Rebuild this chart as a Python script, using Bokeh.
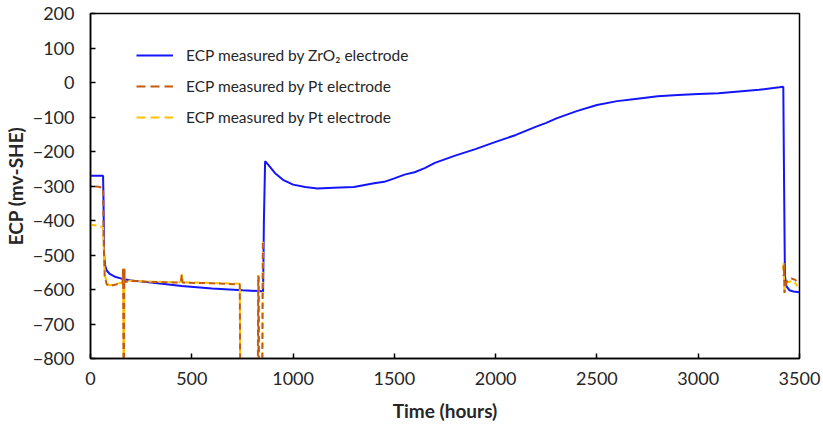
import math
from bokeh.plotting import figure
from bokeh.models import ColumnDataSource, Legend, LegendItem, Range1d, FixedTicker
from bokeh.embed import file_html
from bokeh.resources import INLINE

NaN = float("nan")

# ECP measured by ZrO2 electrode
t_zr = [0, 62, 64, 67, 72, 80, 95, 120, 163, 220, 300, 450, 600, 750, 845, 852,
        856, 862, 880, 910, 950, 1000, 1060, 1120, 1200, 1300, 1400, 1450, 1500,
        1550, 1600, 1650, 1700, 1800, 1900, 2000, 2100, 2200, 2250, 2300, 2400,
        2500, 2600, 2700, 2800, 2900, 3000, 3100, 3200, 3300, 3400, 3420, 3424,
        3428, 3435, 3450, 3470, 3500]
ecp_zr = [-270, -270, -330, -500, -530, -545, -555, -563, -570, -575, -580, -590,
          -597, -602, -605, -606, -400, -228, -240, -262, -282, -296, -303, -307,
          -305, -303, -292, -288, -278, -267, -260, -248, -233, -212, -193, -172,
          -152, -128, -117, -104, -83, -65, -54, -47, -40, -36, -33, -31, -26,
          -21, -14, -12, -300, -560, -590, -602, -606, -608]

# ECP measured by Pt electrode (orange)
t_pt1 = [0, 40, 62, 65, 70, 80, 93, 130, 158, 161, 163, 165, 167, 170, 200, 300,
         440, 447, 450, 455, 600, 737, 739, 826, 828, 830, 832, 848, 851,
         NaN,
         3420, 3423, 3426, 3430, 3440, 3460, 3480, 3490]
ecp_pt1 = [-300, -302, -306, -450, -560, -585, -590, -585, -583, -540, -850, -850,
           -540, -578, -575, -578, -580, -575, -558, -580, -582, -585, -850, -850,
           -560, -565, -850, -850, -460,
           NaN,
           -560, -530, -610, -590, -575, -568, -572, -585]

# ECP measured by Pt electrode (yellow)
t_pt2 = [0, 40, 62, 65, 70, 74, 80, 95, 130, 158, 161, 163, 165, 167, 170, 200,
         300, 440, 447, 450, 455, 600, 737, 739, 826, 828, 830, 832, 848, 851,
         NaN,
         3419, 3422, 3425, 3430, 3445, 3470, 3490]
ecp_pt2 = [-412, -415, -420, -480, -560, -565, -582, -588, -583, -580, -540, -850,
           -850, -540, -576, -574, -577, -579, -574, -555, -579, -581, -583, -850,
           -850, -555, -560, -850, -850, -458,
           NaN,
           -540, -520, -612, -580, -578, -575, -590]

x_ticks = [0, 500, 1000, 1500, 2000, 2500, 3000, 3500]
y_ticks = [-800, -700, -600, -500, -400, -300, -200, -100, 0, 100, 200]

labels = ["ECP measured by ZrO\u2082 electrode",
          "ECP measured by Pt electrode",
          "ECP measured by Pt electrode"]

FONT = "Lato"
TXT = "#262626"
BLUE = "#1414FF"
ORANGE = "#C55A11"
YELLOW = "#FFC000"

p = figure(width=823, height=428, output_backend="svg", toolbar_location=None,
           x_range=Range1d(0, 3500), y_range=Range1d(-800, 200),
           min_border_left=89, min_border_right=24, min_border_top=13,
           min_border_bottom=70)

p.xgrid.visible = False
p.ygrid.visible = False
p.outline_line_color = "black"
p.outline_line_width = 1.5

r1 = p.line(t_zr, ecp_zr, line_color=BLUE, line_width=2)
p.line(t_pt2, ecp_pt2, line_color=YELLOW, line_width=2, line_dash="6 4")
p.line(t_pt1, ecp_pt1, line_color=ORANGE, line_width=2, line_dash="6 4",
       line_dash_offset=5)

# legend-only glyphs (no visible data) so the legend dashes render cleanly
l2 = p.line([NaN], [NaN], line_color=ORANGE, line_width=2, line_dash="9 5")
l3 = p.line([NaN], [NaN], line_color=YELLOW, line_width=2, line_dash="9 5")

for ax in (p.xaxis[0], p.yaxis[0]):
    ax.major_tick_in = 5
    ax.major_tick_out = 0
    ax.minor_tick_in = 0
    ax.minor_tick_out = 0
    ax.axis_line_color = "black"
    ax.axis_line_width = 1.5
    ax.major_tick_line_width = 1.5
    ax.major_label_text_font = FONT
    ax.major_label_text_font_size = "18px"
    ax.major_label_text_color = TXT
    ax.axis_label_text_font = FONT
    ax.axis_label_text_font_size = "19px"
    ax.axis_label_text_font_style = "bold"
    ax.axis_label_text_color = TXT

p.xaxis.ticker = FixedTicker(ticks=x_ticks)
p.yaxis.ticker = FixedTicker(ticks=y_ticks)
p.xaxis.axis_label = "Time (hours)"
p.yaxis.axis_label = "ECP (mv-SHE)"
p.xaxis.major_label_standoff = 13
p.yaxis.major_label_standoff = 16
p.xaxis.axis_label_standoff = 11
p.yaxis.axis_label_standoff = 3

legend = Legend(items=[LegendItem(label=labels[0], renderers=[r1]),
                       LegendItem(label=labels[1], renderers=[l2]),
                       LegendItem(label=labels[2], renderers=[l3])],
                location=(46, 231), padding=0, margin=0, spacing=11,
                glyph_width=37, label_standoff=13,
                border_line_color=None, background_fill_alpha=0,
                label_text_font=FONT, label_text_font_size="15.5px",
                label_text_color=TXT)
p.add_layout(legend, "center")

open("out.html", "w").write(file_html(p, INLINE))
